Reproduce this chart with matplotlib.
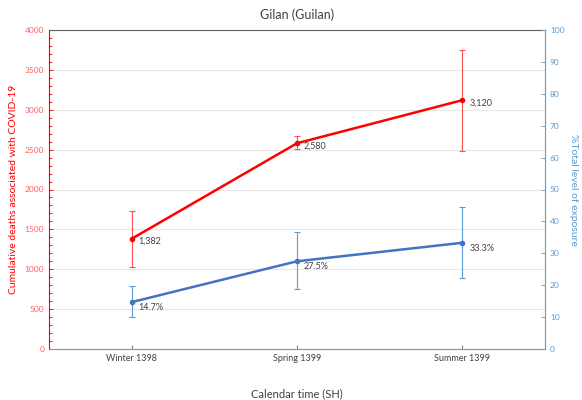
import matplotlib
matplotlib.use("Agg")
import matplotlib.pyplot as plt
from matplotlib.ticker import MultipleLocator
import numpy as np

plt.rcParams['font.family'] = ['Lato', 'DejaVu Sans']

categories = ["Winter 1398", "Spring 1399", "Summer 1399"]
deaths = [1382, 2580, 3120]
deaths_lo = [1030, 2505, 2485]
deaths_hi = [1730, 2665, 3755]
deaths_labels = ["1,382", "2,580", "3,120"]
exposure = [14.7, 27.5, 33.3]
exposure_lo = [9.9, 18.7, 22.4]
exposure_hi = [19.7, 36.6, 44.4]
exposure_labels = ["14.7%", "27.5%", "33.3%"]

red = "#FF0000"
blue = "#4472C4"
lblue = "#5B9BD5"
txt = "#404040"

fig = plt.figure(figsize=(5.82, 4), dpi=100)
ax = fig.add_axes([49/582, 51/400, 496/582, 319/400])
x = np.arange(len(categories))

d = np.array(deaths)
ax.errorbar(x, d, yerr=[d - np.array(deaths_lo), np.array(deaths_hi) - d],
            fmt='none', ecolor="#FF5050", elinewidth=0.8, capsize=2.5, capthick=0.8, zorder=2)
ax.plot(x, d, color=red, lw=1.8, marker='o', ms=3, zorder=3)
for xi, v, lab in zip(x, d, deaths_labels):
    ax.annotate(lab, (xi, v), xytext=(5, -2), textcoords='offset points',
                fontsize=6.5, color=txt, va='center', ha='left')

ax.set_ylim(0, 4000)
ax.set_xlim(-0.5, 2.5)
ax.yaxis.set_major_locator(MultipleLocator(500))
ax.yaxis.set_minor_locator(MultipleLocator(100))
ax.grid(axis='y', which='major', color='#E6E6E6', lw=0.8, zorder=0)
ax.set_axisbelow(True)
ax.tick_params(axis='y', which='both', colors=red, labelsize=6, direction='in', labelcolor="#FF6060")
ax.tick_params(axis='y', which='major', length=3, width=0.6)
ax.tick_params(axis='y', which='minor', length=2, width=0.6)
ax.set_xticks(x)
ax.set_xticklabels(categories)
ax.tick_params(axis='x', colors='#808080', labelsize=6.5, labelcolor=txt, length=3, direction='in')
ax.spines['left'].set_color(red)
ax.spines['bottom'].set_color('#909090')
ax.spines['top'].set_color('#606060')
ax.spines['top'].set_linewidth(0.8)
ax.spines['right'].set_visible(False)
ax.set_ylabel("Cumulative deaths associated with COVID-19", color=red, fontsize=7.5,
              family=['Liberation Sans Narrow', 'Lato', 'DejaVu Sans'], labelpad=5)
ax.set_xlabel("Calendar time (SH)", color=txt, fontsize=8, labelpad=18)
ax.set_title("Gilan (Guilan)", color=txt, fontsize=9, pad=8)

ax2 = ax.twinx()
e = np.array(exposure)
ax2.errorbar(x, e, yerr=[e - np.array(exposure_lo), np.array(exposure_hi) - e],
             fmt='none', ecolor=lblue, elinewidth=0.8, capsize=2.5, capthick=0.8, zorder=2)
ax2.plot(x, e, color=blue, lw=1.8, marker='o', ms=3, zorder=3)
for xi, v, lab in zip(x, e, exposure_labels):
    ax2.annotate(lab, (xi, v), xytext=(5, -4), textcoords='offset points',
                 fontsize=6.5, color=txt, va='center', ha='left')
ax2.set_ylim(0, 100)
ax2.yaxis.set_major_locator(MultipleLocator(10))
ax2.tick_params(axis='y', colors=lblue, labelsize=6, direction='in', length=3, width=0.6)
ax2.spines['right'].set_color(lblue)
for s in ['left', 'top', 'bottom']:
    ax2.spines[s].set_visible(False)
ax2.set_ylabel("%Total level of exposure", color=lblue, fontsize=7.5, rotation=270, labelpad=10)

fig.savefig("out.png", dpi=100)
